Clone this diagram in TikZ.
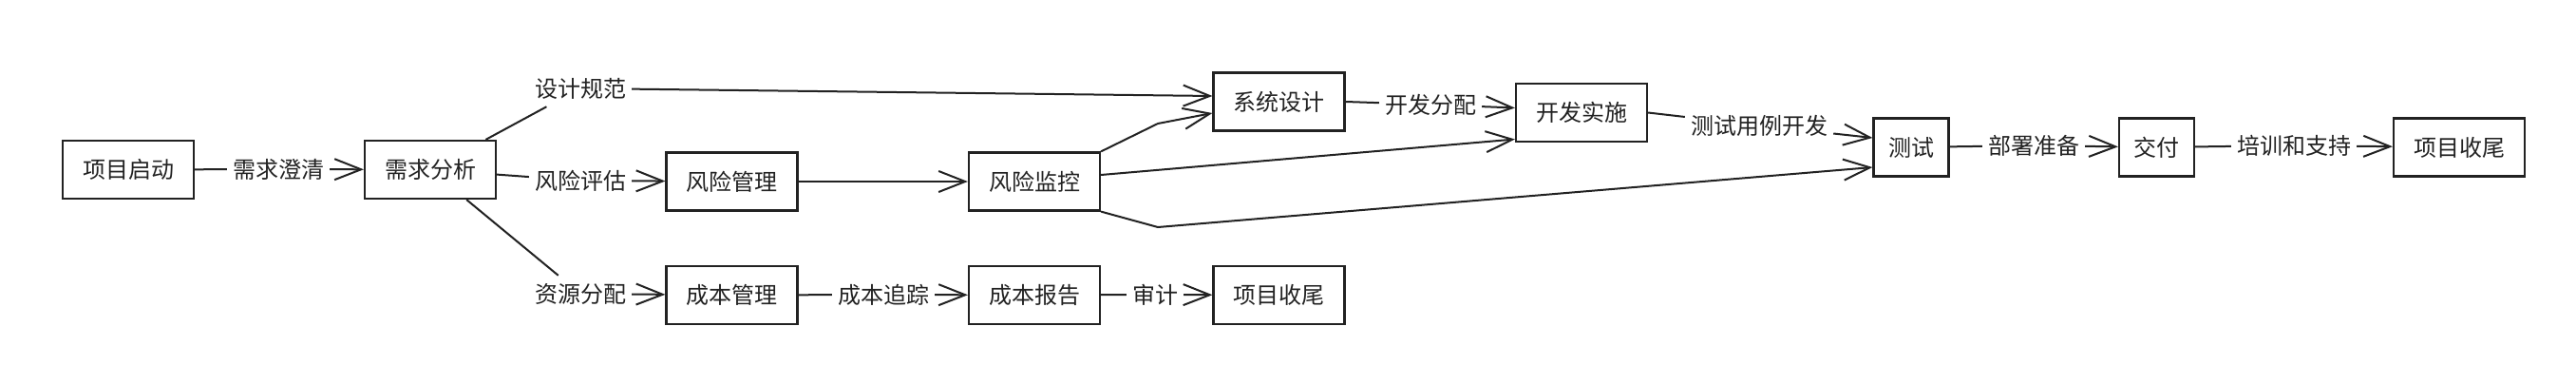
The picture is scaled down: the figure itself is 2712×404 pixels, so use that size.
\documentclass[tikz,border=0pt]{standalone}
\usepackage{fontspec}
\setmainfont{Noto Sans CJK SC}
\usetikzlibrary{arrows.meta}
\definecolor{ink}{RGB}{34,34,34}
\begin{document}
\begin{tikzpicture}[x=1pt,y=-1pt,
 box/.style={draw=ink,line width=2.2pt,minimum height=61pt,inner sep=0pt,font=\fontsize{24}{28}\selectfont,text=ink},
 wbox/.style={box,minimum width=138pt},
 nbox/.style={box,minimum width=79pt},
 lab/.style={inner xsep=6pt,inner ysep=8pt,font=\fontsize{24}{28}\selectfont,text=ink},
 ln/.style={draw=ink,line width=2pt},
 arr/.style={ln,-{Straight Barb[length=28pt,width=22pt]}}]
\fill[white] (0,0) rectangle (2712,404);
\useasboundingbox (0,0) rectangle (2712,404);
\node[wbox] (a1) at (135,178.5) {项目启动};
\node[lab] (l1) at (293,178) {需求澄清};
\node[wbox] (a2) at (453,178.5) {需求分析};
\node[lab] (lsj) at (611,93) {设计规范};
\node[lab] (lfx) at (611,190) {风险评估};
\node[lab] (lzy) at (611,309) {资源分配};
\node[wbox] (c1) at (770.5,191) {风险管理};
\node[wbox] (c2) at (1089,191) {风险监控};
\node[wbox] (b1) at (1346.5,107) {系统设计};
\node[lab] (l2) at (1506,110) {开发分配};
\node[wbox] (b2) at (1665,118.5) {开发实施};
\node[lab] (l3) at (1852,132) {测试用例开发};
\node[nbox] (b3) at (2012,155) {测试};
\node[lab] (l4) at (2141,153) {部署准备};
\node[nbox] (b4) at (2270.5,155) {交付};
\node[lab] (l5) at (2415,153) {培训和支持};
\node[wbox] (b5) at (2589,155) {项目收尾};
\node[wbox] (d1) at (770.5,310.5) {成本管理};
\node[lab] (l6) at (930,310) {成本追踪};
\node[wbox] (d2) at (1089,310.5) {成本报告};
\node[lab] (l7) at (1216,310) {审计};
\node[wbox] (d3) at (1346.5,310.5) {项目收尾};
\coordinate (k1) at (1219,130);
\coordinate (k2) at (1219,239);
\draw[ln] (a1) -- (l1); \draw[arr] (l1) -- (a2);
\draw[ln] (a2) -- (lsj); \draw[arr] (lsj) -- ([yshift=6pt]b1.west);
\draw[ln] (a2) -- (lfx); \draw[arr] (lfx) -- (c1);
\draw[ln] (a2) -- (lzy); \draw[arr] (lzy) -- (d1);
\draw[arr] (c1) -- (c2);
\draw[arr] (c2.north east) -- (k1) -- ([yshift=-12pt]b1.west);
\draw[arr] ([yshift=7pt]c2.east) -- ([yshift=-28pt]b2.west);
\draw[arr] (c2.south east) -- (k2) -- ([yshift=-21pt]b3.west);
\draw[ln] (b1.east) -- (l2); \draw[arr] (l2) -- ([yshift=5pt]b2.west);
\draw[ln] (b2.east) -- (l3); \draw[arr] (l3) -- ([yshift=10pt]b3.west);
\draw[ln] (b3) -- (l4); \draw[arr] (l4) -- (b4);
\draw[ln] (b4) -- (l5); \draw[arr] (l5) -- (b5);
\draw[ln] (d1) -- (l6); \draw[arr] (l6) -- (d2);
\draw[ln] (d2) -- (l7); \draw[arr] (l7) -- (d3);
\end{tikzpicture}
\end{document}
